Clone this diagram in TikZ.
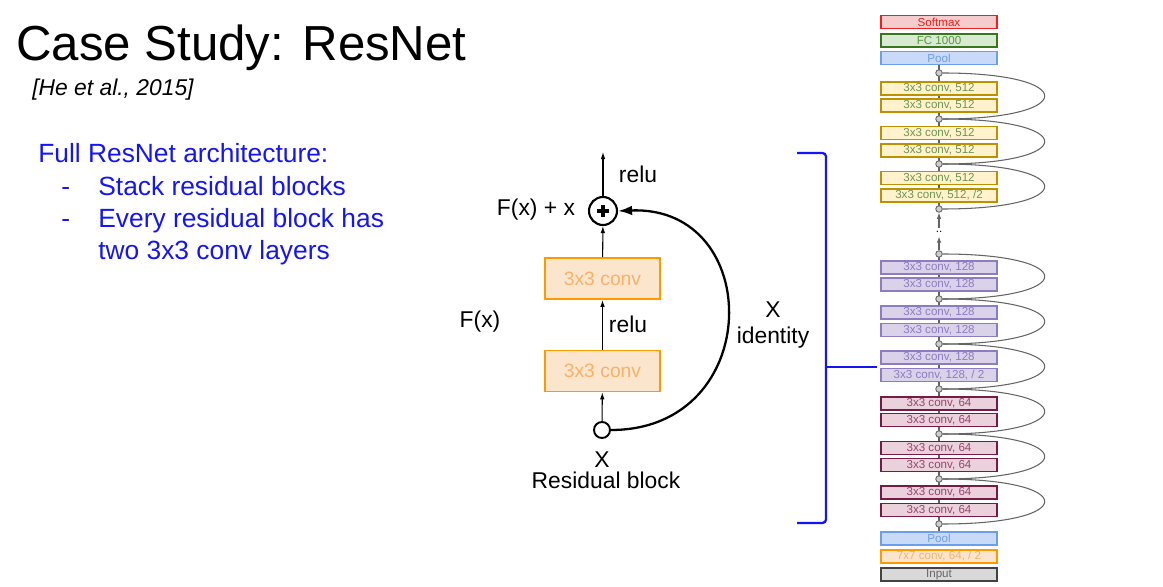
\documentclass[tikz,border=0pt]{standalone}
\usepackage{fontspec}
\setmainfont{Liberation Sans}
\usetikzlibrary{arrows.meta, backgrounds}
\definecolor{textblue}{RGB}{20,20,245}
\definecolor{convorange}{RGB}{255,153,0}
\definecolor{convfill}{RGB}{252,229,205}
\definecolor{convtext}{RGB}{246,178,107}
\definecolor{smline}{RGB}{240,30,30}
\definecolor{smfill}{RGB}{244,204,204}
\definecolor{fcline}{RGB}{56,118,29}
\definecolor{fcfill}{RGB}{217,234,211}
\definecolor{fctext}{RGB}{90,150,60}
\definecolor{poolline}{RGB}{109,158,235}
\definecolor{poolfill}{RGB}{201,218,248}
\definecolor{yline}{RGB}{191,144,0}
\definecolor{yfill}{RGB}{255,242,204}
\definecolor{ytext}{RGB}{110,150,80}
\definecolor{pline}{RGB}{142,124,195}
\definecolor{pfill}{RGB}{217,210,233}
\definecolor{mline}{RGB}{116,27,71}
\definecolor{mfill}{RGB}{234,209,220}
\definecolor{mtext}{RGB}{150,70,110}
\definecolor{inline}{RGB}{67,67,67}
\definecolor{infill}{RGB}{217,217,217}
\definecolor{intext}{RGB}{102,102,102}
\definecolor{skipline}{RGB}{100,100,100}
\definecolor{jointfill}{RGB}{205,205,205}
\tikzstyle{flow} = [line width=0.6pt,-{Latex[length=4pt,width=2.6pt]}]
\tikzstyle{skiparrow} = [line width=1.3pt,-{Latex[length=8pt,width=5.5pt]}]
\tikzstyle{convbox} = [draw=convorange, fill=convfill, text=convtext, line width=1pt, minimum width=2.3cm, minimum height=0.82cm, font=\fontsize{11}{13}\selectfont]
\tikzstyle{blocktext} = [inner sep=0pt, font=\fontsize{13}{15}\selectfont]
\tikzstyle{bluetext} = [inner sep=0pt, anchor=base west, text=textblue, font=\fontsize{15}{18}\selectfont]
\tikzstyle{layer} = [minimum width=2.32cm, minimum height=0.26cm, inner sep=0pt, line width=0.8pt, font=\fontsize{6.6}{7}\selectfont]
\tikzstyle{softmaxbox} = [layer, draw=smline, fill=smfill, text=smline]
\tikzstyle{fcbox} = [layer, draw=fcline, fill=fcfill, text=fctext]
\tikzstyle{poolbox} = [layer, draw=poolline, fill=poolfill, text=poolline]
\tikzstyle{conv512} = [layer, draw=yline, fill=yfill, text=ytext]
\tikzstyle{conv128} = [layer, draw=pline, fill=pfill, text=pline]
\tikzstyle{conv64} = [layer, draw=mline, fill=mfill, text=mtext]
\tikzstyle{conv7} = [layer, draw=convorange, fill=convfill, text=convtext]
\tikzstyle{inputbox} = [layer, draw=inline, fill=infill, text=intext]
\tikzstyle{joint} = [circle, draw=skipline, fill=jointfill, inner sep=0pt, minimum size=0.13cm, line width=0.5pt]
\tikzstyle{skip} = [draw=skipline, line width=0.6pt]
\tikzstyle{brace} = [draw=textblue, line width=1.3pt, rounded corners=2pt]

\begin{document}
\begin{tikzpicture}[x=0.02cm, y=-0.02cm]
	\useasboundingbox (0,0) rectangle (1163,587);
	% left text
	\node[inner sep=0pt, anchor=base west, font=\fontsize{28}{34}\selectfont] (title) at (16,61) {Case Study: ResNet};
	\node[inner sep=0pt, anchor=base west, font=\fontsize{13}{15}\selectfont\itshape] (cite) at (32,96) {[He et al., 2015]};
	\node[bluetext] (head) at (38,163) {Full ResNet architecture:};
	\node[bluetext] (dash1) at (61,196) {-};
	\node[bluetext] (item1) at (98,196) {Stack residual blocks};
	\node[bluetext] (dash2) at (61,228) {-};
	\node[bluetext] (item2) at (98,228) {Every residual block has};
	\node[bluetext] (item2b) at (98,260) {two 3x3 conv layers};

	% residual block
	\node[convbox] (conv2) at (602.5,278.5) {3x3 conv};
	\node[convbox] (conv1) at (602.5,371) {3x3 conv};
	\node[circle, draw, line width=1.2pt, minimum size=0.56cm, inner sep=0pt] (plus) at (603,211) {};
	\draw[line width=2pt] (plus.center) +(-6,0) -- +(6,0) (plus.center) +(0,-6) -- +(0,6);
	\node[circle, draw, line width=1.1pt, minimum size=0.32cm, inner sep=0pt] (xin) at (602,430) {};
	\coordinate (out) at (603,152);
	\draw[flow] (xin) -- (conv1);
	\draw[flow] (conv1) -- (conv2);
	\draw[flow] (conv2) -- (plus);
	\draw[flow] (plus) -- (out);
	\draw[skiparrow] (xin.east) .. controls (765,430) and (765,205) .. (plus.east);
	\node[blocktext, anchor=base] (relutop) at (638,183) {relu};
	\node[blocktext, anchor=base] (fxx) at (536,216) {F(x) + x};
	\node[blocktext, anchor=base] (relumid) at (628,333) {relu};
	\node[blocktext, anchor=base] (fx) at (480,328) {F(x)};
	\node[blocktext, anchor=base] (xid) at (773,318) {X};
	\node[blocktext, anchor=base] (ident) at (773,344) {identity};
	\node[blocktext, anchor=base] (xlab) at (602,467) {X};
	\node[blocktext, anchor=base] (resblock) at (606,488) {Residual block};

	% bracket
	\draw[brace] (797,153) -- (826,153) -- (826,523) -- (797,523);
	\draw[draw=textblue, line width=1.3pt] (826,367) -- (877,367);

	% full network
	\node[softmaxbox] (softmax) at (939,22) {Softmax};
	\node[fcbox] (fc) at (939,40.5) {FC 1000};
	\node[poolbox] (pooltop) at (939,58) {Pool};
	\node[joint] (j0) at (939,73) {};
	\node[conv512] (a1) at (939,88.5) {3x3 conv, 512};
	\node[conv512] (a2) at (939,105.5) {3x3 conv, 512};
	\node[joint] (j1) at (939,119) {};
	\node[conv512] (a3) at (939,133) {3x3 conv, 512};
	\node[conv512] (a4) at (939,150.5) {3x3 conv, 512};
	\node[joint] (j2) at (939,164) {};
	\node[conv512] (a5) at (939,178) {3x3 conv, 512};
	\node[conv512] (a6) at (939,195.5) {3x3 conv, 512, /2};
	\node[joint] (j3) at (939,209) {};
	\node[inner sep=2pt, font=\fontsize{6.6}{7}\selectfont] (dots) at (939,232) {..};
	\node[joint] (j4) at (939,254) {};
	\node[conv128] (b1) at (939,267.5) {3x3 conv, 128};
	\node[conv128] (b2) at (939,284.5) {3x3 conv, 128};
	\node[joint] (j5) at (939,299) {};
	\node[conv128] (b3) at (939,312.5) {3x3 conv, 128};
	\node[conv128] (b4) at (939,330) {3x3 conv, 128};
	\node[joint] (j6) at (939,344) {};
	\node[conv128] (b5) at (939,357.5) {3x3 conv, 128};
	\node[conv128] (b6) at (939,375) {3x3 conv, 128, / 2};
	\node[joint] (j7) at (939,389) {};
	\node[conv64] (c1) at (939,403.5) {3x3 conv, 64};
	\node[conv64] (c2) at (939,420) {3x3 conv, 64};
	\node[joint] (j8) at (939,434) {};
	\node[conv64] (c3) at (939,448) {3x3 conv, 64};
	\node[conv64] (c4) at (939,465) {3x3 conv, 64};
	\node[joint] (j9) at (939,479) {};
	\node[conv64] (c5) at (939,492.5) {3x3 conv, 64};
	\node[conv64] (c6) at (939,510) {3x3 conv, 64};
	\node[joint] (j10) at (939,524) {};
	\node[poolbox] (poolbot) at (939,538.5) {Pool};
	\node[conv7] (first) at (939,556.5) {7x7 conv, 64, / 2};
	\node[inputbox] (input) at (939,574.5) {Input};
	\begin{scope}[on background layer]
		\draw[skip] (poolbot.north) -- (j4.center);
		\draw[skip] (j3.center) -- (pooltop.south);
	\end{scope}
	\draw[skip, -{Latex[length=3.5pt,width=2.6pt]}] (j4) -- (dots);
	\draw[skip, -{Latex[length=3.5pt,width=2.6pt]}] (dots) -- (j3);
	% shortcuts
	\draw[skip] (j0.east) .. controls +(136,0) and +(136,0) .. (j1.east);
	\draw[skip] (j1.east) .. controls +(136,0) and +(136,0) .. (j2.east);
	\draw[skip] (j2.east) .. controls +(136,0) and +(136,0) .. (j3.east);
	\draw[skip] (j4.east) .. controls +(136,0) and +(136,0) .. (j5.east);
	\draw[skip] (j5.east) .. controls +(136,0) and +(136,0) .. (j6.east);
	\draw[skip] (j6.east) .. controls +(136,0) and +(136,0) .. (j7.east);
	\draw[skip] (j7.east) .. controls +(136,0) and +(136,0) .. (j8.east);
	\draw[skip] (j8.east) .. controls +(136,0) and +(136,0) .. (j9.east);
	\draw[skip] (j9.east) .. controls +(136,0) and +(136,0) .. (j10.east);
\end{tikzpicture}
\end{document}
